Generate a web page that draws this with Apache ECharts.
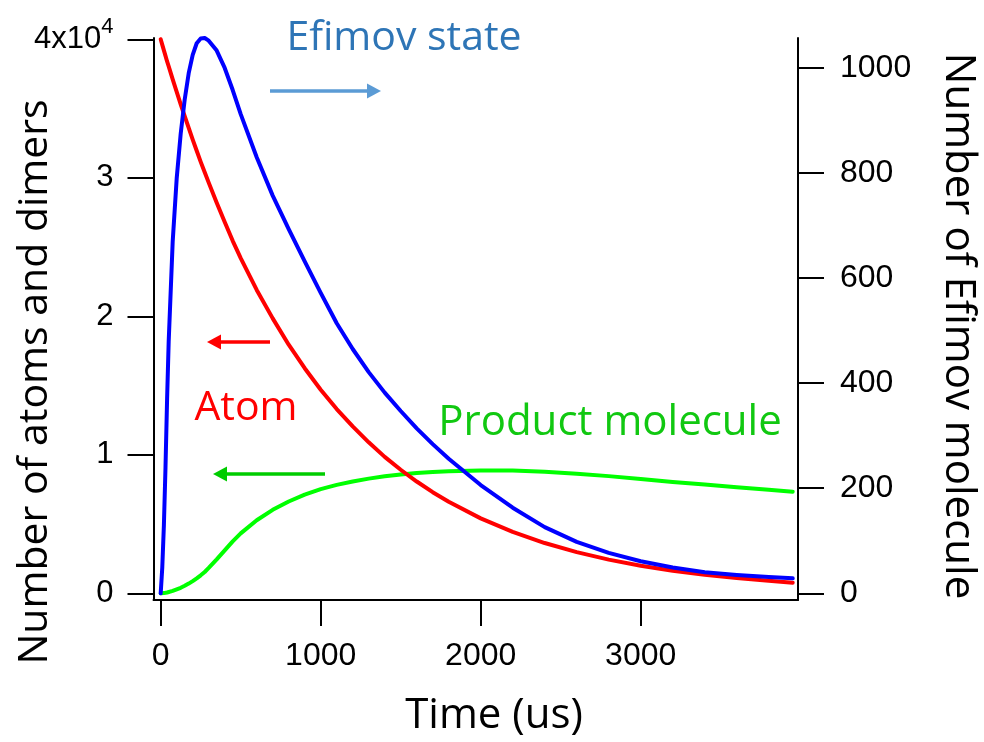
<!DOCTYPE html>
<html>
<head>
<meta charset="utf-8">
<script src="https://cdn.jsdelivr.net/npm/echarts@6/dist/echarts.min.js"></script>
<style>
  html, body { margin: 0; padding: 0; background: #fff; }
  #chart { width: 984px; height: 742px; }
</style>
</head>
<body>
<div id="chart"></div>
<script>
// Time samples (us), shared by all three curves
const times = [0, 10, 20, 30, 40, 50, 75, 100, 125, 150, 175, 200, 225, 250, 275, 300, 350, 400, 450, 500,
  600, 700, 800, 900, 1000, 1100, 1200, 1300, 1400, 1500, 1600, 1700, 1800, 2000, 2200, 2400, 2600,
  2800, 3000, 3200, 3400, 3600, 3800, 3950];

// Number of atoms (left axis)
const atomCount = [40000, 39600, 39200, 38800, 38400, 38050, 37100, 36200, 35300, 34450, 33600, 32750,
  31950, 31150, 30400, 29650, 28200, 26800, 25450, 24200, 21900, 19850, 17950, 16250, 14700, 13300,
  12050, 10900, 9850, 8920, 8070, 7300, 6610, 5410, 4430, 3630, 2970, 2430, 1990, 1630, 1340, 1100, 900, 770];

// Number of Efimov molecules (right axis)
const efimovCount = [0, 50, 130, 240, 370, 480, 670, 790, 875, 940, 990, 1025, 1047, 1056, 1057, 1052,
  1033, 1000, 958, 912, 830, 757, 693, 632, 572, 514, 465, 421, 382, 347, 314, 284, 256, 206, 163,
  126, 98, 77, 61, 49, 40, 35, 31, 28.5];

// Number of product molecules (left axis)
const productCount = [0, 5, 15, 35, 60, 90, 180, 290, 400, 540, 700, 880, 1080, 1300, 1540, 1830, 2450,
  3100, 3750, 4325, 5275, 6025, 6625, 7125, 7525, 7830, 8070, 8280, 8450, 8580, 8680, 8760, 8810,
  8870, 8870, 8780, 8640, 8460, 8250, 8040, 7850, 7650, 7480, 7340];

// Tick positions
const timeTicks = [0, 1000, 2000, 3000];
const leftTicks = [0, 10000, 20000, 30000, 40000];
const rightTicks = [0, 200, 400, 600, 800, 1000];

const pairs = (vals) => times.map((t, i) => [t, vals[i]]);

const tickFont = 'Liberation Sans, Arial, sans-serif';
const textFont = '"Open Sans", sans-serif';

const chart = echarts.init(document.getElementById('chart'), null, { renderer: 'canvas' });

function arrow(x1, x2, y, color) {
  const dir = x2 > x1 ? 1 : -1;
  const headLen = 14, headHalf = 7.5;
  return {
    type: 'group',
    children: [
      { type: 'line', shape: { x1: x1, y1: y, x2: x2 - dir * headLen, y2: y },
        style: { stroke: color, lineWidth: 3.3 } },
      { type: 'polygon', shape: { points: [[x2, y], [x2 - dir * headLen, y - headHalf], [x2 - dir * headLen, y + headHalf]] },
        style: { fill: color } }
    ]
  };
}

const lineSeries = (name, axis, vals, color, z) => ({
  name: name, type: 'line', yAxisIndex: axis, data: pairs(vals),
  smooth: false, showSymbol: false,
  lineStyle: { color: color, width: 4, cap: 'round', join: 'round' }, z: z
});

const option = {
  backgroundColor: '#ffffff',
  animation: false,
  grid: { left: 153.5, right: 186, top: 38, bottom: 142 },
  xAxis: {
    type: 'value',
    min: -45,
    max: 3983,
    splitLine: { show: false },
    axisLine: { show: true, onZero: false, lineStyle: { color: '#000', width: 2 } },
    axisTick: { show: true, inside: false, length: 26, lineStyle: { color: '#000', width: 2 }, customValues: timeTicks },
    axisLabel: { margin: 40, fontSize: 32, color: '#000', fontFamily: tickFont, customValues: timeTicks,
      formatter: (v) => String(v) }
  },
  yAxis: [
    {
      type: 'value',
      position: 'left',
      min: -484,
      max: 40093,
      splitLine: { show: false },
      axisLine: { show: true, onZero: false, lineStyle: { color: '#000', width: 2 } },
      axisTick: { show: true, inside: false, length: 26, lineStyle: { color: '#000', width: 2 }, customValues: leftTicks },
      axisLabel: {
        margin: 40, color: '#000', fontFamily: tickFont, fontSize: 31,
        customValues: leftTicks,
        formatter: (v) => v === 40000 ? '{m|4x10}{s|4}' : '{m|' + (v / 10000) + '}',
        rich: {
          m: { fontSize: 31, fontFamily: tickFont, color: '#000' },
          s: { fontSize: 22, fontFamily: tickFont, color: '#000', padding: [0, 0, 24, 0] }
        }
      }
    },
    {
      type: 'value',
      position: 'right',
      min: -12.75,
      max: 1057,
      splitLine: { show: false },
      axisLine: { show: true, onZero: false, lineStyle: { color: '#000', width: 2 } },
      axisTick: { show: true, inside: false, length: 26, lineStyle: { color: '#000', width: 2 }, customValues: rightTicks },
      axisLabel: { margin: 42, fontSize: 32, color: '#000', fontFamily: tickFont, customValues: rightTicks,
        formatter: (v) => String(v) }
    }
  ],
  series: [
    lineSeries('Product molecule', 0, productCount, '#00ff00', 2),
    lineSeries('Atom', 0, atomCount, '#ff0000', 3),
    lineSeries('Efimov state', 1, efimovCount, '#0000ff', 4)
  ],
  graphic: [
    { type: 'text', x: 35, y: 382, rotation: Math.PI / 2,
      style: { text: 'Number of atoms and dimers', font: '41px ' + textFont, fill: '#000', align: 'center', verticalAlign: 'middle' } },
    { type: 'text', x: 958, y: 326, rotation: -Math.PI / 2,
      style: { text: 'Number of Efimov molecule', font: '42px ' + textFont, fill: '#000', align: 'center', verticalAlign: 'middle' } },
    { type: 'text', x: 494, y: 716,
      style: { text: 'Time (us)', font: '42px ' + textFont, fill: '#000', align: 'center', verticalAlign: 'middle' } },
    { type: 'text', x: 404, y: 38,
      style: { text: 'Efimov state', font: '41px ' + textFont, fill: '#2e75b6', align: 'center', verticalAlign: 'middle' } },
    { type: 'text', x: 246, y: 408,
      style: { text: 'Atom', font: '41px ' + textFont, fill: '#ff0000', align: 'center', verticalAlign: 'middle' } },
    { type: 'text', x: 610, y: 423,
      style: { text: 'Product molecule', font: '42px ' + textFont, fill: '#11c811', align: 'center', verticalAlign: 'middle' } },
    arrow(270, 381, 91, '#5b9bd5'),
    arrow(270, 207, 342, '#ff0000'),
    arrow(325, 213, 474, '#00cc00')
  ]
};

chart.setOption(option);
</script>
</body>
</html>
